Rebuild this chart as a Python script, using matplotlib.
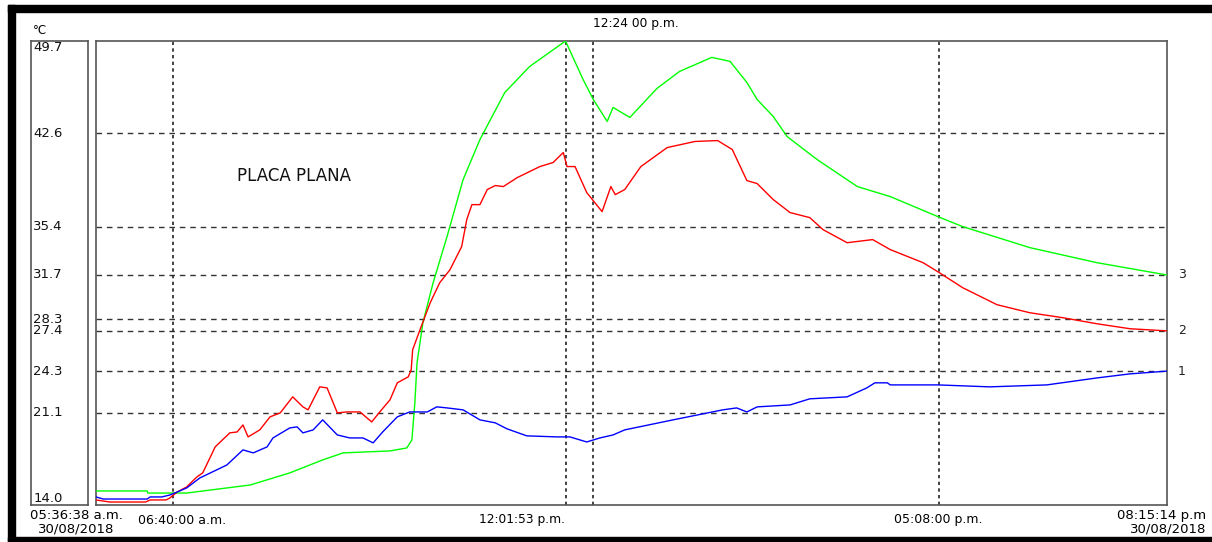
import matplotlib.pyplot as plt
from matplotlib.patches import Rectangle

# tiempo en horas decimales, temperatura en grados C
t_start = 5 + 36/60 + 38/3600     # 05:36:38 a.m.
t_end = 20 + 15/60 + 14/3600      # 08:15:14 p.m.

# sensor 1 (azul)
t1 = [5.61, 5.71, 6.31, 6.35, 6.51, 6.62, 6.72, 6.85, 7.03, 7.26, 7.40, 7.62, 7.76, 7.95, 8.03,
      8.26, 8.36, 8.44, 8.58, 8.71, 8.91, 9.08, 9.26, 9.40, 9.53, 9.73, 9.90, 10.14, 10.27, 10.41,
      10.63, 10.86, 11.07, 11.23, 11.50, 11.91, 12.09, 12.32, 12.50, 12.68, 12.84, 13.50, 14.18,
      14.37, 14.51, 14.65, 15.10, 15.37, 15.88, 16.15, 16.26, 16.43, 16.47, 17.12, 17.83, 18.61,
      19.30, 19.75, 20.25]
T1 = [14.62, 14.46, 14.46, 14.62, 14.62, 14.77, 15.00, 15.31, 16.08, 16.70, 17.08, 18.24, 18.01, 18.47, 19.16,
      19.93, 20.01, 19.55, 19.78, 20.55, 19.39, 19.16, 19.16, 18.78, 19.62, 20.78, 21.16, 21.16, 21.55, 21.47,
      21.32, 20.55, 20.32, 19.86, 19.32, 19.24, 19.24, 18.85, 19.16, 19.39, 19.78, 20.55, 21.32,
      21.47, 21.16, 21.55, 21.70, 22.17, 22.32, 23.01, 23.40, 23.40, 23.24, 23.24, 23.09, 23.24,
      23.78, 24.09, 24.3]

# sensor 2 (rojo)
t2 = [5.61, 5.80, 6.29, 6.35, 6.57, 6.62, 6.72, 6.85, 6.99, 7.07, 7.24, 7.44, 7.54, 7.62, 7.69,
      7.85, 7.99, 8.13, 8.30, 8.44, 8.51, 8.67, 8.77, 8.91, 9.04, 9.22, 9.38, 9.49, 9.63, 9.73,
      9.88, 9.92, 9.94, 10.04, 10.18, 10.31, 10.45, 10.61, 10.68, 10.75, 10.86, 10.96, 11.07, 11.18,
      11.37, 11.68, 11.86, 12.00, 12.05, 12.16, 12.32, 12.53, 12.65, 12.71, 12.84, 13.06, 13.42,
      13.80, 14.11, 14.31, 14.51, 14.65, 14.87, 15.10, 15.37, 15.55, 15.88, 16.23, 16.47, 16.92,
      17.12, 17.46, 17.93, 18.38, 18.83, 19.30, 19.75, 20.25]
T2 = [14.39, 14.23, 14.23, 14.39, 14.39, 14.54, 15.00, 15.39, 16.16, 16.47, 18.47, 19.55, 19.62, 20.16, 19.24,
      19.78, 20.78, 21.09, 22.32, 21.55, 21.32, 23.09, 23.01, 21.09, 21.16, 21.16, 20.39, 21.16, 22.09, 23.40,
      23.86, 24.40, 25.94, 27.48, 29.56, 31.10, 32.10, 33.88, 35.96, 37.11, 37.11, 38.27, 38.58, 38.50,
      39.19, 40.04, 40.35, 41.12, 40.04, 40.04, 38.04, 36.57, 38.50, 37.88, 38.27, 40.04, 41.50,
      41.97, 42.04, 41.35, 38.96, 38.73, 37.50, 36.50, 36.11, 35.19, 34.18, 34.42, 33.65, 32.64,
      31.95, 30.72, 29.41, 28.79, 28.41, 27.94, 27.56, 27.4]

# sensor 3 (verde)
t3 = [5.61, 6.31, 6.32, 6.85, 7.72, 8.26, 8.71, 8.99, 9.63, 9.86, 9.93, 9.97, 10.00, 10.08, 10.22,
      10.41, 10.63, 10.86, 11.20, 11.54, 12.03, 12.27, 12.41, 12.60, 12.68, 12.91, 13.28, 13.59,
      14.03, 14.28, 14.51, 14.65, 14.87, 15.06, 15.47, 16.02, 16.47, 17.12, 17.46, 18.38, 19.30, 20.25]
T3 = [15.08, 15.08, 14.92, 14.92, 15.54, 16.47, 17.47, 18.01, 18.16, 18.39, 19.01, 21.86, 24.94, 28.02, 31.10,
      34.65, 39.04, 42.12, 45.74, 47.74, 49.7, 46.74, 45.20, 43.51, 44.59, 43.82, 46.05, 47.36,
      48.44, 48.13, 46.51, 45.20, 43.89, 42.35, 40.58, 38.50, 37.73, 36.19, 35.42, 33.80, 32.64, 31.7]

y_ticks = [49.7, 42.6, 35.4, 31.7, 28.3, 27.4, 24.3, 21.1, 14.0]
y_labels = ["49.7", "42.6", "35.4", "31.7", "28.3", "27.4", "24.3", "21.1", "14.0"]
v_lines = [6 + 40/60, 12 + 1/60 + 53/3600, 12 + 24/60, 17 + 8/60]

W, H = 1212, 542
fig = plt.figure(figsize=(W/100, H/100), dpi=100)
plt.rcParams['font.family'] = 'DejaVu Sans'

# marco negro
fig.add_artist(Rectangle((8/W, 0), 1 - 8/W, 5/H, transform=fig.transFigure, color='black'))
fig.add_artist(Rectangle((8/W, (H-12)/H), 1 - 8/W, 7/H, transform=fig.transFigure, color='black'))
fig.add_artist(Rectangle((8/W, 0), 7/W, (H-5)/H, transform=fig.transFigure, color='black'))

ax = fig.add_axes([96/W, (H-505)/H, 1071/W, 464/H])
ax.set_xlim(t_start, t_end)
ax.set_ylim(14.0, 49.7)
ax.set_xticks([])
ax.set_yticks([])
for s in ax.spines.values():
    s.set_color('#555555')
    s.set_linewidth(1.2)

for y in y_ticks[1:-1]:
    ax.axhline(y, color='#333333', lw=1.0, ls=(0, (4, 3.5)), zorder=1)
for x in v_lines:
    ax.axvline(x, color='#222222', lw=1.2, ls=(0, (2, 2)), zorder=1)

ax.plot(t3, T3, color='#00ff00', lw=1.0, zorder=3)
ax.plot(t2, T2, color='#ff0000', lw=1.0, zorder=3)
ax.plot(t1, T1, color='#0000ff', lw=1.0, zorder=3)

fig.text(237/W, (H-176)/H, "PLACA PLANA", fontsize=12, va='center', ha='left', color='#111111')

# etiquetas de curvas a la derecha
for lbl, val in zip(["3", "2", "1"], [T3[-1], T2[-1], T1[-1]]):
    ax.annotate(lbl, (1.0, val), xycoords=('axes fraction', 'data'), xytext=(8, 0),
                textcoords='offset points', va='center', ha='left', fontsize=9, color='#222222')

# caja de la escala izquierda
axl = fig.add_axes([31/W, (H-505)/H, 57/W, 464/H])
axl.set_ylim(14.0, 49.7)
axl.set_xlim(0, 1)
axl.set_xticks([])
axl.set_yticks([])
for s in axl.spines.values():
    s.set_color('#555555')
    s.set_linewidth(1.2)
for y, lbl in zip(y_ticks, y_labels):
    va = 'center'
    if y == y_ticks[0]:
        va = 'top'
    elif y == y_ticks[-1]:
        va = 'bottom'
    axl.text(0.04, y, lbl, fontsize=9.5, va=va, ha='left', color='#111111')
fig.text(33/W, (H-31)/H, "°C", fontsize=8.5, va='center', ha='left')

# etiquetas de tiempo
fig.text(76/W, (H-522)/H, "05:36:38 a.m.\n30/08/2018", fontsize=9.5, ha='center', va='center',
         linespacing=1.0)
fig.text(182/W, (H-520)/H, "06:40:00 a.m.", fontsize=9, ha='center', va='center')
fig.text(522/W, (H-520)/H, "12:01:53 p.m.", fontsize=8.8, ha='center', va='center')
fig.text(938/W, (H-520)/H, "05:08:00 p.m.", fontsize=9, ha='center', va='center')
fig.text(1206/W, (H-522)/H, "08:15:14 p.m\n30/08/2018", fontsize=9.5, ha='right', va='center',
         multialignment='right', linespacing=1.0)
fig.text(593/W, (H-23)/H, "12:24 00 p.m.", fontsize=8.8, ha='left', va='center')

fig.savefig("out.png", dpi=100)
